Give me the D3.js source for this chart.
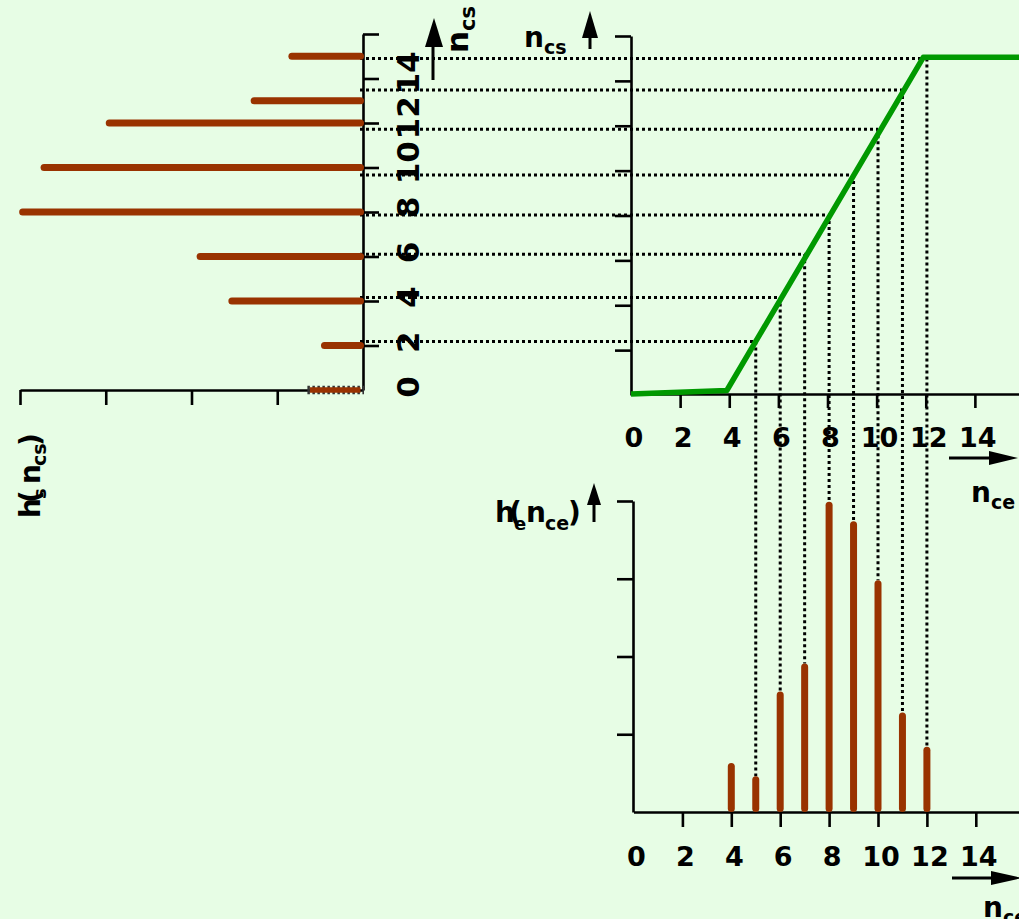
<!DOCTYPE html>
<html>
<head>
<meta charset="utf-8">
<script src="https://cdn.jsdelivr.net/npm/d3@7"></script>
<style>
  html, body { margin: 0; padding: 0; background: #e7fde5; }
  svg { display: block; }
  text { font-family: "DejaVu Sans", Verdana, sans-serif; font-weight: bold; fill: #000; }
</style>
</head>
<body>
<svg id="chart" width="1019" height="919"></svg>
<script>
// ---------- data ----------
// input histogram h_e(n_ce)
const nceValues = [4, 5, 6, 7, 8, 9, 10, 11, 12];
const heValues  = [0.63, 0.46, 1.55, 1.91, 3.99, 3.74, 2.98, 1.28, 0.84];
// output histogram h_s(n_cs)
const ncsValues = [0, 2, 4, 6, 8, 10, 12, 13, 15];
const hsValues  = [0.66, 0.49, 1.57, 1.94, 4.01, 3.76, 3.00, 1.31, 0.87];
// transfer curve n_cs = f(n_ce)
const curveIn  = [0, 3.9, 11.9, 15.8];
const curveOut = [0.05, 0.2, 15.05, 15.05];
// projection lines (dotted): input value and the output level where each meets the curve
const projectedIn  = [5, 6, 7, 8, 9, 10, 11, 12];
const projectedOut = [2.38, 4.34, 6.27, 8.02, 9.8, 11.84, 13.59, 15.0];
// tick labels
const xTickLabels = [0, 2, 4, 6, 8, 10, 12, 14];
const yTickLabels = [0, 2, 4, 6, 8, 10, 12, 14];
const axisTicks   = [2, 4, 6, 8, 10, 12, 14, 16];
const countTicks  = [1, 2, 3, 4];

// ---------- styles ----------
const BROWN = "#993300", GREEN = "#009900", AXIS_W = 2.6;

const svg = d3.select("#chart");
svg.append("rect").attr("width", 1019).attr("height", 919).attr("fill", "#e7fde5");

// ---------- scales ----------
const xTop = d3.scaleLinear().domain([0, 16]).range([631, 1024]);
const yR   = d3.scaleLinear().domain([0, 16]).range([395, 36]);
const yL   = d3.scaleLinear().domain([0, 16]).range([390, 34]);
const xL   = d3.scaleLinear().domain([0, 4]).range([363, 20]);
const xBot = d3.scaleLinear().domain([0, 16]).range([633.5, 1024.7]);
const yB   = d3.scaleLinear().domain([0, 4]).range([812, 501]);
const yLab = d3.scaleLinear().domain([0, 14]).range([387, 73]);

const gDots = svg.append("g");
const gAxes = svg.append("g");
const gMarks = svg.append("g");

function styleAxis(g) {
  g.selectAll("path, line").attr("stroke", "#000").attr("stroke-width", AXIS_W);
  g.selectAll("text").remove();
}

// ---------- dotted projection lines ----------
const proj = projectedIn.map((d, i) => ({ n: d, out: projectedOut[i], h: heValues[nceValues.indexOf(d)] }));
const dot = sel => sel.attr("stroke", "#000").attr("stroke-width", 3)
  .attr("stroke-dasharray", "3,3").attr("fill", "none");

gDots.selectAll("line.h").data(proj).join("line").attr("class", "h")
  .attr("x1", 360).attr("x2", d => xBot(d.n))
  .attr("y1", d => yR(d.out)).attr("y2", d => yR(d.out))
  .call(dot);

gDots.selectAll("line.v").data(proj).join("line").attr("class", "v")
  .attr("x1", d => xBot(d.n)).attr("x2", d => xBot(d.n))
  .attr("y1", d => yR(d.out)).attr("y2", d => yB(d.h))
  .call(dot);

// ---------- axes: transfer panel ----------
gAxes.append("g").attr("transform", "translate(631,0)")
  .call(d3.axisLeft(yR).tickValues(axisTicks).tickSize(16).tickSizeOuter(0))
  .call(styleAxis);
gAxes.append("g").attr("transform", "translate(0,394)")
  .call(d3.axisBottom(xTop).tickValues(axisTicks.slice(0, 7)).tickSize(14).tickSizeOuter(0))
  .call(styleAxis);

// ---------- axes: output histogram (left) ----------
gAxes.append("g").attr("transform", "translate(363,0)")
  .call(d3.axisRight(yL).tickValues(axisTicks).tickSize(16).tickSizeOuter(0))
  .call(styleAxis);
gAxes.append("g").attr("transform", "translate(0,390)")
  .call(d3.axisBottom(xL).tickValues(countTicks).tickSize(15).tickSizeOuter(0))
  .call(styleAxis);

// ---------- axes: input histogram (bottom) ----------
gAxes.append("g").attr("transform", "translate(633,0)")
  .call(d3.axisLeft(yB).tickValues(countTicks).tickSize(16).tickSizeOuter(0))
  .call(styleAxis);
gAxes.append("g").attr("transform", "translate(0,812)")
  .call(d3.axisBottom(xBot).tickValues(axisTicks.slice(0, 7)).tickSize(15).tickSizeOuter(0))
  .call(styleAxis);

// ---------- tick labels ----------
svg.append("g").selectAll("text").data(xTickLabels).join("text")
  .attr("x", d => xTop(d) + 3).attr("y", 447).attr("text-anchor", "middle")
  .attr("font-size", 27).text(d => d);
svg.append("g").selectAll("text").data(xTickLabels).join("text")
  .attr("x", d => xBot(d) + 3).attr("y", 866).attr("text-anchor", "middle")
  .attr("font-size", 27).text(d => d);
svg.append("g").selectAll("text").data(yTickLabels).join("text")
  .attr("transform", d => `translate(419,${yLab(d)}) rotate(-90)`)
  .attr("text-anchor", "middle").attr("font-size", 31).text(d => d);

// ---------- transfer curve ----------
gMarks.append("path")
  .datum(curveIn.map((d, i) => [d, curveOut[i]]))
  .attr("d", d3.line().x(d => xTop(d[0])).y(d => yR(d[1])))
  .attr("fill", "none").attr("stroke", GREEN).attr("stroke-width", 5.5)
  .attr("stroke-linejoin", "round");

// ---------- output histogram bars (horizontal) ----------
const hsData = ncsValues.map((d, i) => ({ n: d, h: hsValues[i] }));
gMarks.selectAll("line.zero").data(hsData.filter(d => d.n === 0)).join("line")
  .attr("class", "zero")
  .attr("x1", d => xL(d.h) + 1).attr("x2", 364)
  .attr("y1", d => yL(d.n)).attr("y2", d => yL(d.n))
  .attr("stroke", "#333").attr("stroke-width", 8.5).attr("stroke-dasharray", "2.5,2.5");
gMarks.selectAll("line.hs").data(hsData).join("line").attr("class", "hs")
  .attr("x1", d => xL(d.h) + 3.5).attr("x2", 360.5)
  .attr("y1", d => yL(d.n)).attr("y2", d => yL(d.n))
  .attr("stroke", BROWN)
  .attr("stroke-width", d => d.n === 0 ? 5.5 : 7)
  .attr("stroke-linecap", d => d.n === 0 ? "butt" : "round");

// ---------- input histogram bars (vertical) ----------
gMarks.selectAll("line.he").data(nceValues.map((d, i) => ({ n: d, h: heValues[i] }))).join("line")
  .attr("class", "he")
  .attr("x1", d => xBot(d.n)).attr("x2", d => xBot(d.n))
  .attr("y1", yB(0) - 3.5).attr("y2", d => yB(d.h) + 3.5)
  .attr("stroke", BROWN).attr("stroke-width", 7).attr("stroke-linecap", "round");

// ---------- arrows ----------
const arrows = svg.append("g");
function arrow(x1, y1, x2, y2, head) {
  arrows.append("line").attr("x1", x1).attr("y1", y1).attr("x2", x2).attr("y2", y2)
    .attr("stroke", "#000").attr("stroke-width", 3);
  arrows.append("path").attr("d", "M" + head.join("L") + "Z").attr("fill", "#000");
}
arrow(433, 80, 433, 40, [[425, 47], [434, 18], [443, 47]]);
arrow(590, 49, 590, 34, [[582, 38], [590, 11], [598, 38]]);
arrow(949, 458, 992, 458, [[989, 451], [1018, 458], [989, 465]]);
arrow(594, 522, 594, 500, [[587, 505], [594, 483], [601, 505]]);
arrow(952, 878, 994, 878, [[991, 871], [1022, 878], [991, 885]]);

// ---------- axis titles ----------
function ncLabel(x, y, sub, size, subSize, transform) {
  const t = svg.append("text").attr("font-size", size);
  if (transform) t.attr("transform", transform); else t.attr("x", x).attr("y", y);
  t.append("tspan").text("n");
  t.append("tspan").attr("dy", 7).attr("font-size", subSize).text(sub);
  return t;
}
ncLabel(524, 47, "cs", 28, 19);
ncLabel(0, 0, "cs", 31, 21, "translate(468,53) rotate(-90)");
ncLabel(971, 502, "ce", 28, 19);
ncLabel(983, 917, "ce", 28, 19);

// h_e(n_ce)
const he = svg.append("text").attr("font-size", 28).attr("y", 522);
he.append("tspan").attr("x", 495).text("h");
he.append("tspan").attr("x", 509).text("(");
he.append("tspan").attr("x", 514).attr("dy", 8).attr("font-size", 18).text("e");
he.append("tspan").attr("x", 526).attr("dy", -8).text("n");
he.append("tspan").attr("x", 545).attr("dy", 8).attr("font-size", 19).text("ce");
he.append("tspan").attr("x", 568).attr("dy", -8).text(")");

// h_s(n_cs) rotated
const hs = svg.append("text").attr("font-size", 28).attr("transform", "translate(40,518) rotate(-90)");
hs.append("tspan").attr("x", 0).text("h");
hs.append("tspan").attr("x", 15).text("(");
hs.append("tspan").attr("x", 19).attr("dy", 6).attr("font-size", 18).text("s");
hs.append("tspan").attr("x", 34).attr("dy", -6).text("n");
hs.append("tspan").attr("x", 52).attr("dy", 6).attr("font-size", 19).text("cs");
hs.append("tspan").attr("x", 72).attr("dy", -6).text(")");
</script>
</body>
</html>
